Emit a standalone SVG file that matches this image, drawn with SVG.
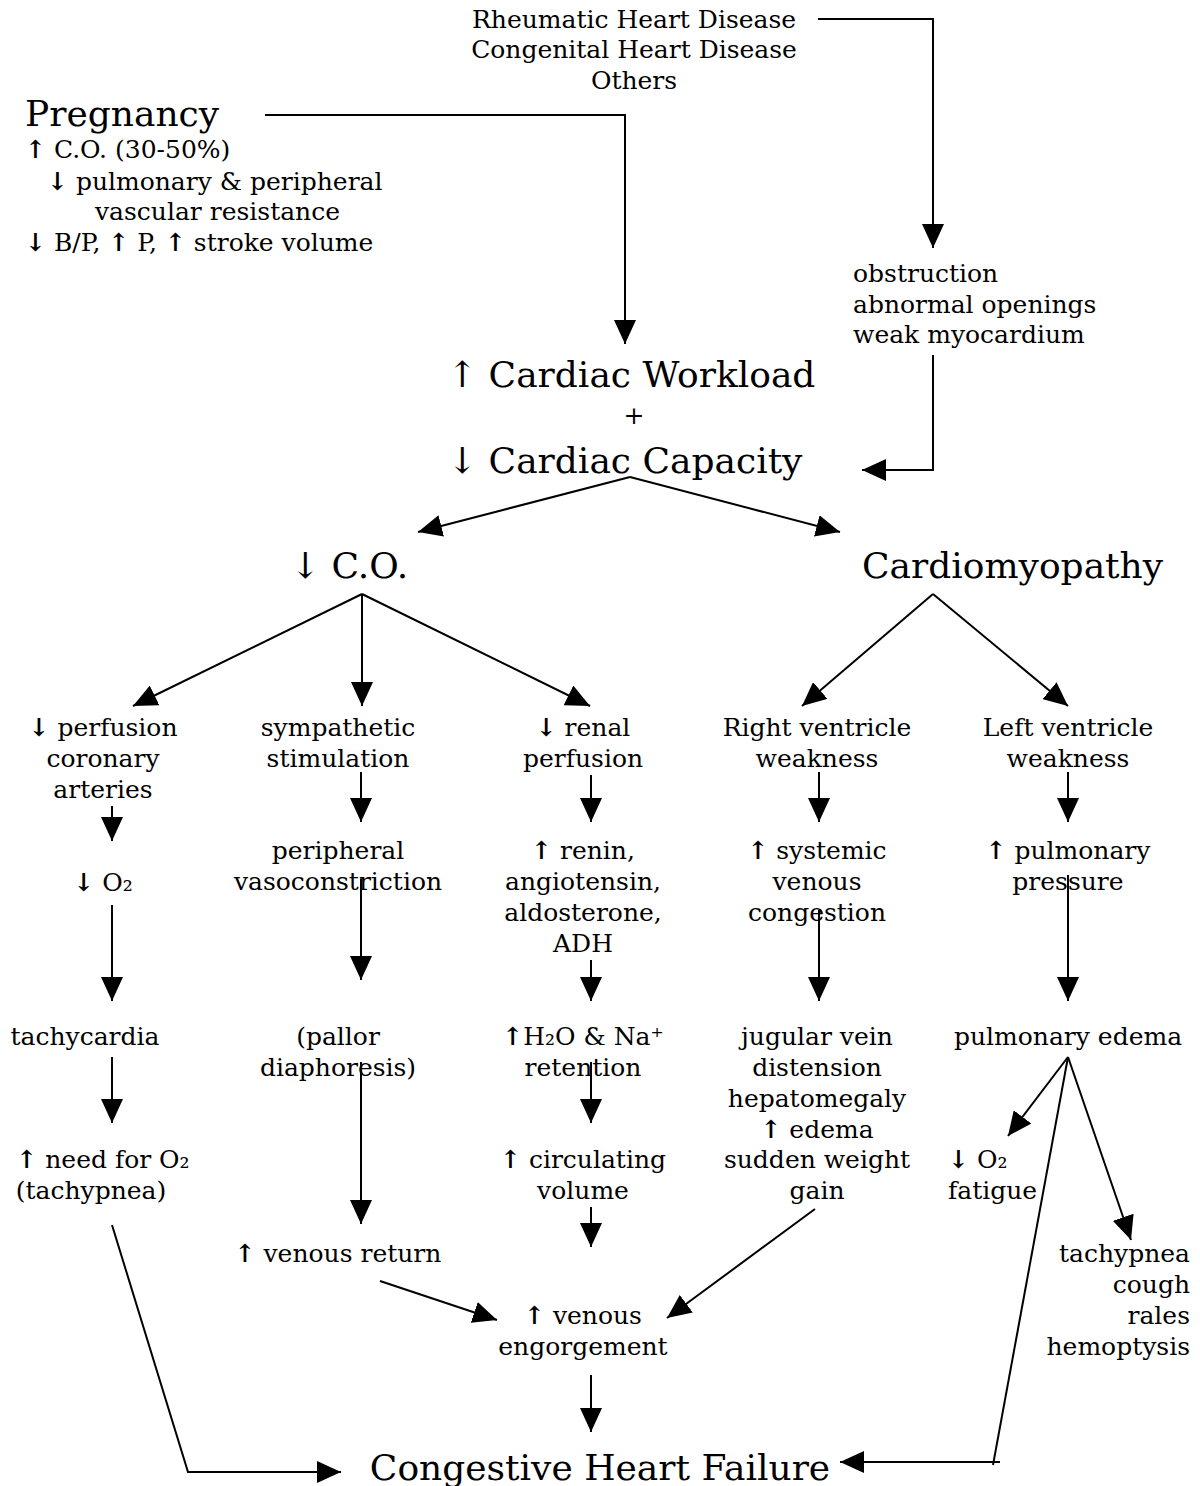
<svg xmlns="http://www.w3.org/2000/svg" width="1200" height="1486" viewBox="0 0 1200 1486">
<style>
text{font-family:"DejaVu Serif","Liberation Serif",serif;fill:#000;font-size:25px}
.c{text-anchor:middle}
.r{text-anchor:end}
.big{font-size:36px}
.a{font-weight:bold}
.cn line,.cn polyline{stroke:#000;stroke-width:2;fill:none}
</style>
<defs>
<marker id="ah" markerUnits="userSpaceOnUse" markerWidth="26" markerHeight="22" refX="24" refY="11" orient="auto">
<path d="M0,0 L24,11 L0,22 z" fill="#000"/>
</marker>
</defs>
<rect width="1200" height="1486" fill="#fff"/>
<g id="n_causes"><text class="c" x="634" y="28">Rheumatic Heart Disease</text><text class="c" x="634" y="58">Congenital Heart Disease</text><text class="c" x="634" y="89">Others</text></g>
<g id="n_pregnancy"><text class="big" x="25" y="126">Pregnancy</text><text x="25" y="158"><tspan class="a">↑</tspan> C.O. (30-50%)</text><text x="47" y="190"><tspan class="a">↓</tspan> pulmonary &amp; peripheral</text><text x="95" y="220">vascular resistance</text><text x="25" y="251"><tspan class="a">↓</tspan> B/P, <tspan class="a">↑</tspan> P, <tspan class="a">↑</tspan> stroke volume</text></g>
<g id="n_defects"><text x="853" y="282">obstruction</text><text x="853" y="313">abnormal openings</text><text x="853" y="343">weak myocardium</text></g>
<g id="n_workload"><text class="big" x="447" y="387">↑ Cardiac Workload</text><text class="c" x="634" y="424">+</text><text class="big" x="447" y="473">↓ Cardiac Capacity</text></g>
<g id="n_co"><text class="big" x="290" y="578">↓ C.O.</text></g>
<g id="n_cardiomyopathy"><text class="big" x="862" y="578">Cardiomyopathy</text></g>
<g id="n_perfusion"><text class="c" x="103" y="736"><tspan class="a">↓</tspan> perfusion</text><text class="c" x="103" y="767">coronary</text><text class="c" x="103" y="798">arteries</text></g>
<g id="n_o2"><text class="c" x="103" y="891"><tspan class="a">↓</tspan> O₂</text></g>
<g id="n_tachycardia"><text class="c" x="85" y="1045">tachycardia</text></g>
<g id="n_needo2"><text class="c" x="103" y="1168"><tspan class="a">↑</tspan> need for O₂</text><text class="c" x="91" y="1199">(tachypnea)</text></g>
<g id="n_sympathetic"><text class="c" x="338" y="736">sympathetic</text><text class="c" x="338" y="767">stimulation</text></g>
<g id="n_vasoconstriction"><text class="c" x="338" y="859">peripheral</text><text class="c" x="338" y="890">vasoconstriction</text></g>
<g id="n_pallor"><text class="c" x="338" y="1045">(pallor</text><text class="c" x="338" y="1076">diaphoresis)</text></g>
<g id="n_venousreturn"><text class="c" x="338" y="1262"><tspan class="a">↑</tspan> venous return</text></g>
<g id="n_renal"><text class="c" x="583" y="736"><tspan class="a">↓</tspan> renal</text><text class="c" x="583" y="767">perfusion</text></g>
<g id="n_renin"><text class="c" x="583" y="859"><tspan class="a">↑</tspan> renin,</text><text class="c" x="583" y="890">angiotensin,</text><text class="c" x="583" y="921">aldosterone,</text><text class="c" x="583" y="952">ADH</text></g>
<g id="n_retention"><text class="c" x="583" y="1045"><tspan class="a">↑</tspan>H₂O &amp; Na⁺</text><text class="c" x="583" y="1076">retention</text></g>
<g id="n_circulating"><text class="c" x="583" y="1168"><tspan class="a">↑</tspan> circulating</text><text class="c" x="583" y="1199">volume</text></g>
<g id="n_engorgement"><text class="c" x="583" y="1324"><tspan class="a">↑</tspan> venous</text><text class="c" x="583" y="1355">engorgement</text></g>
<g id="n_rv"><text class="c" x="817" y="736">Right ventricle</text><text class="c" x="817" y="767">weakness</text></g>
<g id="n_systemic"><text class="c" x="817" y="859"><tspan class="a">↑</tspan> systemic</text><text class="c" x="817" y="890">venous</text><text class="c" x="817" y="921">congestion</text></g>
<g id="n_jugular"><text class="c" x="817" y="1045">jugular vein</text><text class="c" x="817" y="1076">distension</text><text class="c" x="817" y="1107">hepatomegaly</text><text class="c" x="817" y="1138"><tspan class="a">↑</tspan> edema</text><text class="c" x="817" y="1168">sudden weight</text><text class="c" x="817" y="1199">gain</text></g>
<g id="n_lv"><text class="c" x="1068" y="736">Left ventricle</text><text class="c" x="1068" y="767">weakness</text></g>
<g id="n_pulmpressure"><text class="c" x="1068" y="859"><tspan class="a">↑</tspan> pulmonary</text><text class="c" x="1068" y="890">pressure</text></g>
<g id="n_pulmedema"><text class="c" x="1068" y="1045">pulmonary edema</text></g>
<g id="n_fatigue"><text x="948" y="1168"><tspan class="a">↓</tspan> O₂</text><text x="948" y="1199">fatigue</text></g>
<g id="n_resp"><text class="r" x="1190" y="1262">tachypnea</text><text class="r" x="1190" y="1293">cough</text><text class="r" x="1190" y="1324">rales</text><text class="r" x="1190" y="1355">hemoptysis</text></g>
<g id="n_chf"><text class="big c" x="600" y="1480">Congestive Heart Failure</text></g>
<g id="connectors" class="cn">
<polyline points="818,19 933,19 933,248" marker-end="url(#ah)"/>
<polyline points="265,115 625,115 625,344" marker-end="url(#ah)"/>
<polyline points="933,355 933,470 862,470" marker-end="url(#ah)"/>
<line x1="630" y1="477" x2="418" y2="532" marker-end="url(#ah)"/>
<line x1="630" y1="477" x2="840" y2="532" marker-end="url(#ah)"/>
<line x1="362" y1="594" x2="133" y2="706" marker-end="url(#ah)"/>
<line x1="362" y1="594" x2="362" y2="706" marker-end="url(#ah)"/>
<line x1="362" y1="594" x2="590" y2="706" marker-end="url(#ah)"/>
<line x1="933" y1="594" x2="802" y2="706" marker-end="url(#ah)"/>
<line x1="933" y1="594" x2="1068" y2="706" marker-end="url(#ah)"/>
<line x1="112" y1="806" x2="112" y2="841" marker-end="url(#ah)"/>
<line x1="112" y1="905" x2="112" y2="1001" marker-end="url(#ah)"/>
<line x1="112" y1="1057" x2="112" y2="1123" marker-end="url(#ah)"/>
<polyline points="112,1225 188,1472 341,1472" marker-end="url(#ah)"/>
<line x1="361" y1="772" x2="361" y2="822" marker-end="url(#ah)"/>
<line x1="361" y1="879" x2="361" y2="980" marker-end="url(#ah)"/>
<line x1="361" y1="1062" x2="361" y2="1224" marker-end="url(#ah)"/>
<line x1="380" y1="1281" x2="497" y2="1320" marker-end="url(#ah)"/>
<line x1="591" y1="775" x2="591" y2="822" marker-end="url(#ah)"/>
<line x1="591" y1="960" x2="591" y2="1001" marker-end="url(#ah)"/>
<line x1="591" y1="1062" x2="591" y2="1123" marker-end="url(#ah)"/>
<line x1="591" y1="1207" x2="591" y2="1247" marker-end="url(#ah)"/>
<line x1="591" y1="1375" x2="591" y2="1432" marker-end="url(#ah)"/>
<line x1="819" y1="772" x2="819" y2="822" marker-end="url(#ah)"/>
<line x1="819" y1="910" x2="819" y2="1001" marker-end="url(#ah)"/>
<line x1="815" y1="1209" x2="667" y2="1318" marker-end="url(#ah)"/>
<line x1="1068" y1="772" x2="1068" y2="822" marker-end="url(#ah)"/>
<line x1="1068" y1="875" x2="1068" y2="1001" marker-end="url(#ah)"/>
<line x1="1068" y1="1057" x2="1008" y2="1136" marker-end="url(#ah)"/>
<line x1="1068" y1="1057" x2="1131" y2="1240" marker-end="url(#ah)"/>
<polyline points="1068,1057 993,1465"/>
<line x1="1000" y1="1462" x2="840" y2="1462" marker-end="url(#ah)"/>
</g>
</svg>
